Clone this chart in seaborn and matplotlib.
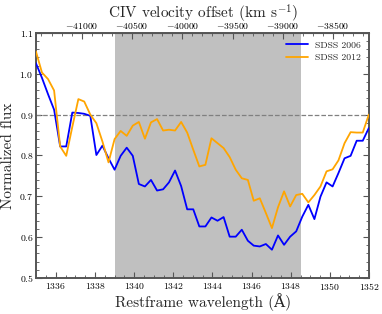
import numpy as np
import pandas as pd
import matplotlib
matplotlib.use('Agg')
import matplotlib.pyplot as plt
from matplotlib.ticker import AutoMinorLocator, MultipleLocator
import seaborn as sns

# Restframe wavelength grid (Angstrom)
wavelength = [1334.98, 1335.29, 1335.60, 1335.91, 1336.22, 1336.53, 1336.84, 1337.15,
              1337.45, 1337.76, 1338.07, 1338.38, 1338.69, 1339.00, 1339.31, 1339.62,
              1339.93, 1340.24, 1340.55, 1340.86, 1341.17, 1341.48, 1341.78, 1342.09,
              1342.40, 1342.71, 1343.02, 1343.33, 1343.64, 1343.95, 1344.26, 1344.57,
              1344.88, 1345.19, 1345.50, 1345.81, 1346.11, 1346.42, 1346.73, 1347.04,
              1347.35, 1347.66, 1347.97, 1348.28, 1348.59, 1348.90, 1349.21, 1349.52,
              1349.83, 1350.14, 1350.44, 1350.75, 1351.06, 1351.37, 1351.68, 1351.99]

flux_2006 = [1.026, 0.990, 0.950, 0.912, 0.822, 0.822, 0.905, 0.904,
             0.902, 0.897, 0.801, 0.824, 0.793, 0.765, 0.799, 0.819,
             0.799, 0.730, 0.724, 0.740, 0.714, 0.717, 0.734, 0.763,
             0.725, 0.668, 0.668, 0.626, 0.626, 0.648, 0.640, 0.649,
             0.601, 0.601, 0.618, 0.591, 0.579, 0.577, 0.583, 0.569,
             0.604, 0.581, 0.601, 0.614, 0.650, 0.679, 0.644, 0.699,
             0.734, 0.724, 0.757, 0.793, 0.799, 0.836, 0.836, 0.867]

flux_2012 = [1.055, 1.003, 0.987, 0.959, 0.822, 0.799, 0.870, 0.938,
             0.932, 0.900, 0.879, 0.834, 0.783, 0.840, 0.860, 0.848,
             0.873, 0.882, 0.841, 0.881, 0.889, 0.861, 0.863, 0.861,
             0.882, 0.856, 0.814, 0.773, 0.777, 0.842, 0.830, 0.818,
             0.796, 0.765, 0.744, 0.740, 0.689, 0.695, 0.659, 0.622,
             0.673, 0.712, 0.675, 0.703, 0.706, 0.685, 0.703, 0.724,
             0.761, 0.766, 0.788, 0.830, 0.857, 0.856, 0.856, 0.900]

labels = ['SDSS 2006', 'SDSS 2012']
colors = ['blue', 'orange']

# absorption trough region
trough = (1339.0, 1348.55)

# linear mapping wavelength -> CIV velocity (km/s)
v_ref, lam_ref, dv_dlam = -41000.0, 1337.32, 194.6


def lam2v(lam):
    return v_ref + dv_dlam * (np.asarray(lam) - lam_ref)


def v2lam(v):
    return lam_ref + (np.asarray(v) - v_ref) / dv_dlam


df = pd.DataFrame({
    'wavelength': wavelength * 2,
    'flux': flux_2006 + flux_2012,
    'epoch': [labels[0]] * len(flux_2006) + [labels[1]] * len(flux_2012),
})

sns.set_style('ticks')
plt.rcParams['font.family'] = ['cmr10', 'DejaVu Serif']
plt.rcParams['mathtext.fontset'] = 'cm'
plt.rcParams['axes.formatter.use_mathtext'] = True
plt.rcParams['axes.edgecolor'] = '#555555'
plt.rcParams['xtick.color'] = '#555555'
plt.rcParams['ytick.color'] = '#555555'
plt.rcParams['xtick.labelcolor'] = 'black'
plt.rcParams['ytick.labelcolor'] = 'black'

fig = plt.figure(figsize=(3.82, 3.14), dpi=100)
ax = fig.add_axes([0.095, 0.115, 0.871, 0.78])

ax.axvspan(trough[0], trough[1], color='silver', lw=0, zorder=0)
ax.axhline(0.9, color='gray', ls='--', lw=0.9, zorder=1)

sns.lineplot(data=df, x='wavelength', y='flux', hue='epoch',
             palette=dict(zip(labels, colors)), lw=1.3, ax=ax, zorder=3)

ax.set_xlim(1335, 1352)
ax.set_ylim(0.5, 1.1)
ax.xaxis.set_major_locator(MultipleLocator(2))
ax.yaxis.set_major_locator(MultipleLocator(0.1))
ax.xaxis.set_minor_locator(AutoMinorLocator(4))
ax.yaxis.set_minor_locator(AutoMinorLocator(5))
ax.tick_params(which='both', direction='in', right=True, top=False, labelsize=7, pad=2)
ax.tick_params(which='major', length=4, width=0.8)
ax.tick_params(which='minor', length=2, width=0.6)
for s in ax.spines.values():
    s.set_linewidth(1.4)

ax.set_xlabel('Restframe wavelength (Å)', fontsize=11, labelpad=1)
ax.set_ylabel('Normalized flux', fontsize=11, labelpad=3)

sec = ax.secondary_xaxis('top', functions=(lam2v, v2lam))
sec.xaxis.set_major_locator(MultipleLocator(500))
sec.xaxis.set_minor_locator(MultipleLocator(100))
sec.tick_params(which='both', direction='in', labelsize=7, pad=1.5)
sec.tick_params(which='major', length=4, width=0.8)
sec.tick_params(which='minor', length=2, width=0.6)
sec.set_xlabel('CIV velocity offset (km s$^{-1}$)', fontsize=11, labelpad=1)

ax.legend(loc='upper right', frameon=False, fontsize=7, handlelength=2.2,
          borderaxespad=0.4, labelspacing=0.4)

fig.savefig('out.png', dpi=100)
